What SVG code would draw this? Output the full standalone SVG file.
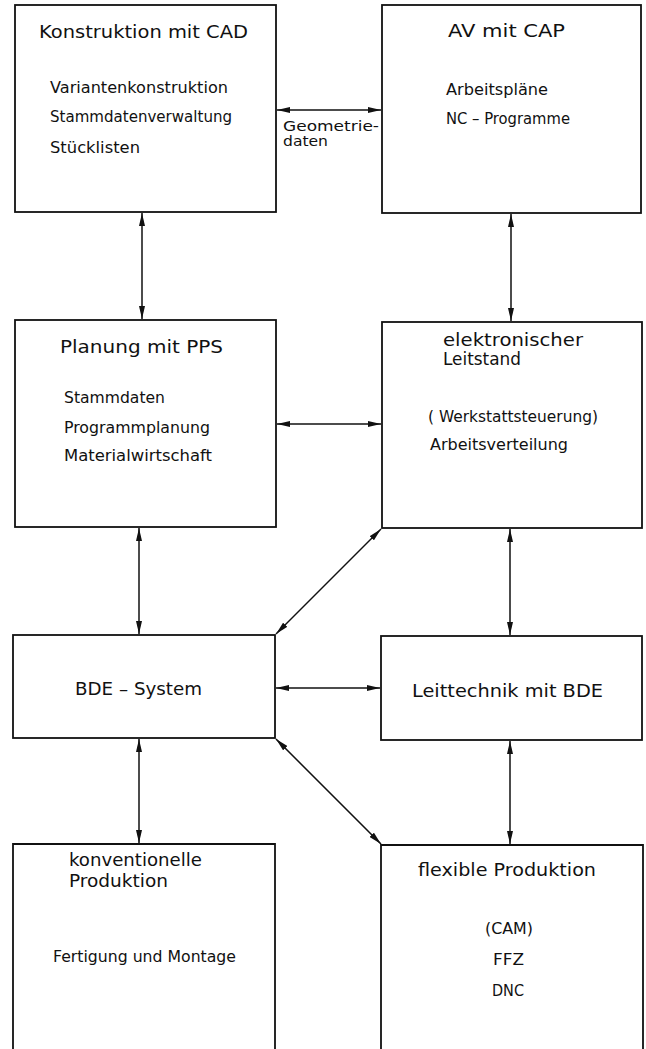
<svg xmlns="http://www.w3.org/2000/svg" width="646" height="1049" viewBox="0 0 646 1049">
<style>
.box{fill:none;stroke:#111;stroke-width:1.8}
.con{fill:none;stroke:#111;stroke-width:1.5;marker-start:url(#ah);marker-end:url(#ah)}
text{font-family:"DejaVu Sans","Liberation Sans",sans-serif;fill:#111}
.t{font-size:18px}
.s{font-size:15.5px}
.g{font-size:14px}
</style>
<defs>
<marker id="ah" viewBox="0 0 13 7" refX="13" refY="3.5" markerWidth="13" markerHeight="7" markerUnits="userSpaceOnUse" orient="auto-start-reverse">
<path d="M0,0.5 L13,3.5 L0,6.5 Z" fill="#111"/>
</marker>
</defs>
<rect width="646" height="1049" fill="#fff"/>
<g id="connectors">
<line class="con" x1="277" y1="110" x2="381" y2="110"/>
<line class="con" x1="142" y1="213" x2="142" y2="319"/>
<line class="con" x1="511" y1="214" x2="511" y2="321"/>
<line class="con" x1="277" y1="424" x2="381" y2="424"/>
<line class="con" x1="139" y1="528" x2="139" y2="634"/>
<line class="con" x1="510" y1="529" x2="510" y2="635"/>
<line class="con" x1="381" y1="529" x2="276" y2="634"/>
<line class="con" x1="276" y1="688" x2="380" y2="688"/>
<line class="con" x1="276" y1="739" x2="381" y2="844"/>
<line class="con" x1="139" y1="739" x2="139" y2="843"/>
<line class="con" x1="510" y1="741" x2="510" y2="844"/>
<text class="g" x="283" y="131" textLength="96" lengthAdjust="spacingAndGlyphs">Geometrie-</text>
<text class="g" x="283" y="146" textLength="45" lengthAdjust="spacingAndGlyphs">daten</text>
</g>
<g id="n1">
<rect class="box" x="15" y="5" width="261" height="207"/>
<text class="t" x="39" y="38" textLength="209" lengthAdjust="spacingAndGlyphs">Konstruktion mit CAD</text>
<text class="s" x="50" y="93" textLength="178" lengthAdjust="spacingAndGlyphs">Variantenkonstruktion</text>
<text class="s" x="50" y="122" textLength="182" lengthAdjust="spacingAndGlyphs">Stammdatenverwaltung</text>
<text class="s" x="50" y="153" textLength="90" lengthAdjust="spacingAndGlyphs">Stücklisten</text>
</g>
<g id="n2">
<rect class="box" x="382" y="5" width="259" height="208"/>
<text class="t" x="448" y="37" textLength="117" lengthAdjust="spacingAndGlyphs">AV mit CAP</text>
<text class="s" x="446" y="95" textLength="102" lengthAdjust="spacingAndGlyphs">Arbeitspläne</text>
<text class="s" x="446" y="124" textLength="124" lengthAdjust="spacingAndGlyphs">NC – Programme</text>
</g>
<g id="n3">
<rect class="box" x="15" y="320" width="261" height="207"/>
<text class="t" x="60" y="353" textLength="163" lengthAdjust="spacingAndGlyphs">Planung mit PPS</text>
<text class="s" x="64" y="403" textLength="101" lengthAdjust="spacingAndGlyphs">Stammdaten</text>
<text class="s" x="64" y="433" textLength="146" lengthAdjust="spacingAndGlyphs">Programmplanung</text>
<text class="s" x="64" y="461" textLength="148" lengthAdjust="spacingAndGlyphs">Materialwirtschaft</text>
</g>
<g id="n4">
<rect class="box" x="382" y="322" width="260" height="206"/>
<text class="t" x="443" y="346" textLength="140" lengthAdjust="spacingAndGlyphs">elektronischer</text>
<text class="t" x="443" y="365" textLength="78" lengthAdjust="spacingAndGlyphs">Leitstand</text>
<text class="s" x="428" y="422" textLength="170" lengthAdjust="spacingAndGlyphs">( Werkstattsteuerung)</text>
<text class="s" x="430" y="450" textLength="138" lengthAdjust="spacingAndGlyphs">Arbeitsverteilung</text>
</g>
<g id="n5">
<rect class="box" x="13" y="635" width="262" height="103"/>
<text class="t" x="75" y="695" textLength="127" lengthAdjust="spacingAndGlyphs">BDE – System</text>
</g>
<g id="n6">
<rect class="box" x="381" y="636" width="261" height="104"/>
<text class="t" x="412" y="697" textLength="191" lengthAdjust="spacingAndGlyphs">Leittechnik mit BDE</text>
</g>
<g id="n7">
<path class="box" d="M13,1049 V844 H275 V1049"/>
<text class="t" x="69" y="866" textLength="133" lengthAdjust="spacingAndGlyphs">konventionelle</text>
<text class="t" x="69" y="887" textLength="99" lengthAdjust="spacingAndGlyphs">Produktion</text>
<text class="s" x="53" y="962" textLength="183" lengthAdjust="spacingAndGlyphs">Fertigung und Montage</text>
</g>
<g id="n8">
<path class="box" d="M381,1049 V845 H643 V1049"/>
<text class="t" x="418" y="876" textLength="178" lengthAdjust="spacingAndGlyphs">flexible Produktion</text>
<text class="s" x="485" y="934" textLength="48" lengthAdjust="spacingAndGlyphs">(CAM)</text>
<text class="s" x="493" y="965" textLength="31" lengthAdjust="spacingAndGlyphs">FFZ</text>
<text class="s" x="492" y="996" textLength="32" lengthAdjust="spacingAndGlyphs">DNC</text>
</g>
</svg>
